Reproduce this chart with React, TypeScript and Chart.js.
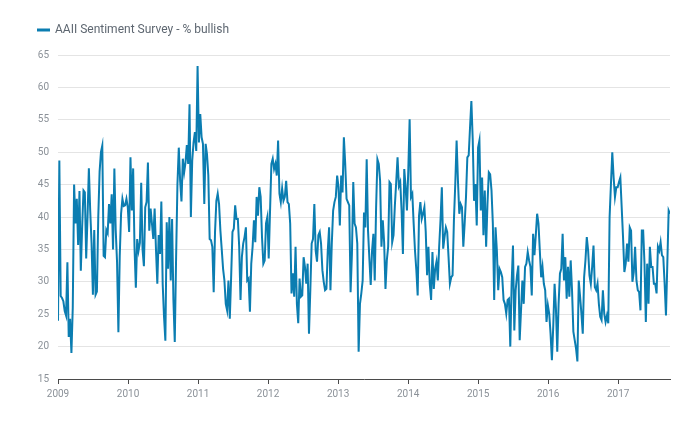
import { useEffect, useRef } from "react";
import { Chart, registerables } from "chart.js";

Chart.register(...registerables);

const seriesLabel = "AAII Sentiment Survey - % bullish";
const firstYear = 2009;
const yearTicks = [2009, 2010, 2011, 2012, 2013, 2014, 2015, 2016, 2017];
const yMin = 15;
const yMax = 65;
const yStep = 5;

// Weekly % bullish readings, in order.
const bullishPart1 = [
  24, 48.7, 27.8, 27.5, 27, 25.5, 24.8, 33, 21.5, 24.3,
  19, 26, 45, 39, 42.8, 35.7, 44, 31.7, 38.5, 44.1,
  43.8, 33.6, 40, 47.5, 41, 36, 28, 38, 28, 28.5,
  40, 47, 50, 51, 34, 33.8, 38, 37.5, 42, 39,
  43.5, 35, 47.5, 38, 33, 22.2, 34, 40.5, 42.8, 41.7,
  41.8, 42.8, 41.5, 37.7,
];
const bullishPart2 = [
  49.2, 41, 47.5, 35.4, 29.1, 36.6, 34.8, 36, 45.3, 35,
  32.4, 41.5, 42.3, 48.4, 37.9, 41.3, 39, 36.6, 41.3, 35,
  29.7, 37.2, 34.3, 42.4, 29.7, 24.6, 20.9, 39.2, 32, 40,
  30.2, 39.7, 27.2, 20.7, 33.8, 45.1, 50.7, 45.6, 42.4, 49,
  46.9, 48.4, 51.1, 48.2, 57.4, 40, 48.7, 51.5, 53.1, 50.2,
  63.3, 51.5, 55.9, 52.3, 51.3, 42, 51.3, 49.7, 46.4, 36.6,
  36.4, 35.4, 28.4, 37.7, 42.5, 43.6, 42,
];
const bullishPart3 = [
  37.9, 35, 32, 30.2, 26.6, 25.6, 30.2, 24.3, 30.7, 37.7,
  38.2, 41.8, 39.7, 39.7, 35.4, 27.2, 33.8, 35.9, 36.9, 38.4,
  30.2, 30.5, 25.4, 32.8, 35.4, 39.5, 36.1, 43.1, 40.2, 44.6,
  43.1, 36.9, 32.8, 33.3, 39, 40, 33.6, 41, 48.2, 49,
  47.4, 48.2, 46.4, 51.8, 43.6, 42.3, 44.4, 42.5, 43.1, 45.6,
  42.3, 42, 39, 28.2, 31.3, 27.7, 35.4, 26.6, 23.6, 30.5,
  27.7, 27.9, 33.8, 32.3, 29.7, 32.8, 22,
];
const bullishPart4 = [
  28.7, 35.9, 36.6, 42, 34.8, 33.1, 37.2, 37.7, 35.9, 31.8,
  30, 28.7, 28.9, 34.8, 38.4, 28.7, 35.9, 41, 42.3, 43.1,
  46.4, 44.6, 38.7, 46.4, 43.8, 52.3, 48.2, 42.8, 42.3, 41.8,
  28.4, 34.3, 45.4, 39, 38.4, 35.9, 19.2, 26.6, 28.2, 30.2,
  40.7, 38.4, 48.9, 37.9, 33.6, 29.5, 34.8, 37.4, 30.2, 41.3,
  48.9, 48.2, 45.6, 35.4, 39.5, 36.1, 28.9, 33.3, 35.4, 45.4,
  45.1, 36.1, 37.2, 41.8, 45.4, 49.2, 44.8, 45.4, 41, 34.3,
  47.4, 44.6, 41, 47.2, 55.1, 43.1,
];
const bullishPart5 = [
  43.6, 39, 34.8, 31.8, 27.9, 40.2, 42.3, 39.7, 40.5, 41.5,
  37.7, 31, 35.4, 29.7, 27.2, 34.6, 28.9, 32, 33.1, 30.2,
  35.4, 39.5, 44.6, 35.1, 36.9, 38.4, 37.7, 33.8, 29.7, 30.7,
  31, 39.5, 45.1, 51.8, 45.6, 40.5, 42, 41.5, 35.4, 39,
  43.1, 49.2, 49.5, 53.8, 57.9, 52, 42.5, 45.1, 38.7, 50.7,
  51.8, 41, 46.1, 37.2, 44.1, 35.4, 42, 46.9,
];
const bullishPart6 = [
  46.6, 44.1, 39, 27.2, 38.4, 34.8, 28.7, 32, 31.5, 30.7,
  27.2, 26.6, 25.1, 27.2, 27.4, 20, 29.7, 35.6, 22.5, 28.7,
  31, 32.5, 21, 25.6, 30.2, 26.6, 32.3, 32.8, 34.6, 33.3,
  32.3, 27.9, 37.4, 34.1, 37.2, 40.5, 39, 34.8, 30.7, 32.3,
  29.7, 28.7, 23.8, 26.4, 25.1, 22, 17.9, 23.1, 29.7, 25.9,
  19.2, 26.6, 31.3, 32, 37.4, 30.2, 33.8, 27.4, 32.3, 27.7,
  33.3, 28.7, 22.3, 21, 19.7, 17.7, 30.2, 27.7, 25.1, 22,
];
const bullishPart7 = [
  30.7, 33.3, 36.9, 34.8, 31, 29.7, 32.3, 35.6, 29.2, 28.7,
  29.7, 26.6, 24.6, 24.1, 28.7, 25.1, 23.8, 24.8, 23.6, 40,
  45.1, 50, 46.1, 43.1, 44.6, 44.6, 45.4, 46.1, 41.5, 36.9,
  31.5, 32.8, 35.9, 33.1, 38.4, 37.9, 30, 31.5, 35.4, 30.2,
  28.7, 28.4, 25.6, 37.9, 37.9, 32.8, 23.8, 32.8, 26.6, 35.4,
  32.3, 32.3, 29.7, 29.7, 28.2, 35.4, 34.8, 36.1, 34.1, 33.8,
  29.7, 24.8, 32.8, 41, 40.5,
];

const weeklyBullish = [
  ...bullishPart1,
  ...bullishPart2,
  ...bullishPart3,
  ...bullishPart4,
  ...bullishPart5,
  ...bullishPart6,
  ...bullishPart7,
];
// weekly observation dates as fractional years
const weekDates = weeklyBullish.map((_, i) => firstYear + (i * 7) / 365.25);

const lineColor = "#0b7db1";
const tickColor = "#8b9198";
const fontFamily = "Roboto, 'Noto Sans', sans-serif";

export default function App() {
  const canvasRef = useRef<HTMLCanvasElement | null>(null);

  useEffect(() => {
    document.body.style.margin = "0";
    const canvas = canvasRef.current;
    if (!canvas) return;

    const legendSpacer = {
      id: "legendSpacer",
      beforeInit(chart: any) {
        const legend = chart.legend;
        if (!legend) return;
        const origFit = legend.fit;
        legend.fit = function () {
          origFit.call(this);
          this.height += 9;
        };
      },
    };

    const chart = new Chart(canvas, {
      type: "line",
      data: {
        datasets: [
          {
            label: seriesLabel,
            data: weeklyBullish.map((v, i) => ({ x: weekDates[i], y: v })),
            borderColor: lineColor,
            backgroundColor: lineColor,
            borderWidth: 2,
            pointRadius: 0,
            tension: 0,
            fill: false,
          },
        ],
      },
      options: {
        animation: false,
        responsive: false,
        maintainAspectRatio: false,
        layout: { padding: { top: 14, left: 28, right: 30, bottom: 17 } },
        plugins: {
          legend: {
            display: true,
            position: "top",
            align: "start",
            labels: {
              boxWidth: 11,
              boxHeight: 1,
              padding: 10,
              color: "#5d6670",
              font: { family: fontFamily, size: 12 },
            },
          },
          tooltip: { enabled: false },
        },
        scales: {
          x: {
            type: "linear",
            min: firstYear,
            max: weekDates[weekDates.length - 1],
            afterBuildTicks: (axis: any) => {
              axis.ticks = yearTicks.map((v) => ({ value: v }));
            },
            ticks: {
              autoSkip: false,
              maxRotation: 0,
              color: tickColor,
              font: { family: fontFamily, size: 10 },
              padding: 4,
              callback: (v: any) => String(v),
            },
            grid: {
              display: true,
              drawOnChartArea: false,
              drawTicks: true,
              tickLength: 5,
              color: "#4a4a4a",
            },
            border: { display: true, color: "#4a4a4a", width: 1 },
          },
          y: {
            min: yMin,
            max: yMax,
            afterFit: (scale: any) => {
              scale.width = 30;
            },
            ticks: {
              stepSize: yStep,
              color: tickColor,
              font: { family: fontFamily, size: 10 },
              padding: 9,
            },
            grid: { color: "#e4e4e4", drawTicks: false, lineWidth: 1 },
            border: { display: false },
          },
        },
      },
      plugins: [legendSpacer],
    });

    return () => {
      chart.destroy();
    };
  }, []);

  return (
    <div style={{ width: 700, height: 421, background: "#ffffff" }}>
      <canvas
        ref={canvasRef}
        width={700}
        height={421}
        style={{ display: "block", width: 700, height: 421 }}
      />
    </div>
  );
}
